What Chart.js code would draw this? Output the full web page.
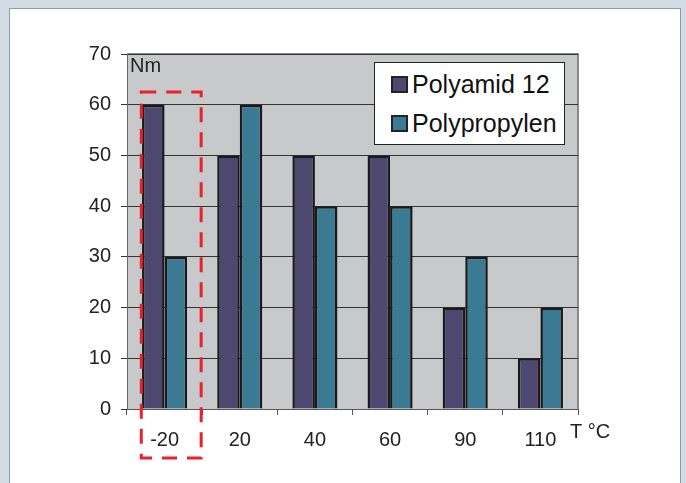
<!DOCTYPE html>
<html>
<head>
<meta charset="utf-8">
<script src="https://cdn.jsdelivr.net/npm/chart.js@4"></script>
<style>
  html,body{margin:0;padding:0;}
  body{width:686px;height:483px;background:#d3dce3;position:relative;overflow:hidden;font-family:"Liberation Sans",Arial,sans-serif;}
  #panel{position:absolute;left:9px;top:8px;width:672px;height:500px;background:#fff;border:1px solid #8d9ca8;box-sizing:border-box;}
  #wrap{position:absolute;left:0;top:0;width:686px;height:483px;}
  #legend{position:absolute;left:374px;top:62px;width:191px;height:83px;background:#fff;border:1px solid #222;box-sizing:border-box;}
  .item{position:absolute;left:16px;height:26px;line-height:26px;font-size:25px;color:#111;white-space:nowrap;}
  .item i{display:inline-block;width:13px;height:13px;border:2px solid #222;vertical-align:middle;margin-right:4px;position:relative;top:-2px;}
</style>
</head>
<body>
<div id="panel"></div>
<div id="wrap"><canvas id="c" width="686" height="483"></canvas></div>
<div id="legend"></div>
<script>
/* ---------- 資料 ---------- */
const temps = ['-20','20','40','60','90','110'];
const polyamid = [60,50,50,50,20,10];
const polypropylen = [30,60,40,40,30,20];
const seriesNames = ['Polyamid 12','Polypropylen'];
const seriesColors = ['#4e4870','#3b7a93'];
const yTicks = [0,10,20,30,40,50,60,70];
const highlightIdx = 0;      // 紅框標示的類別
const highlightTop = 62.5;   // 紅框上緣（數值）

const FONT = '"Liberation Sans", Arial, sans-serif';

/* ---------- 小工具 plugin：背景、單位、紅框 ---------- */
const decor = {
  id:'decor',
  beforeDraw(chart){
    const {ctx, chartArea:a} = chart;
    ctx.save();
    ctx.fillStyle = '#c8c9cb';
    ctx.fillRect(a.left, a.top, a.right-a.left, a.bottom-a.top);
    ctx.strokeStyle = '#8a8a8a'; ctx.lineWidth = 2;
    ctx.beginPath();
    ctx.moveTo(a.left, a.top); ctx.lineTo(a.right, a.top); ctx.lineTo(a.right, a.bottom);
    ctx.stroke();
    ctx.restore();
  },
  afterDraw(chart){
    const {ctx, chartArea:a, scales:{x,y}} = chart;
    ctx.save();
    ctx.font = '20px ' + FONT;
    ctx.fillStyle = '#222';
    ctx.textBaseline = 'top';
    ctx.textAlign = 'left';
    ctx.fillText('Nm', a.left + 3, a.top + 2);
    ctx.fillText('T °C', a.right - 8, a.bottom + 13);
    // 紅色虛線框
    const cx = x.getPixelForValue(highlightIdx);
    const cw = x.getPixelForValue(highlightIdx+1) - cx;
    const l = cx - cw*0.31, r = cx + cw/2 - 1;
    const t = y.getPixelForValue(highlightTop), b = a.bottom + 49;
    ctx.strokeStyle = '#e8212a'; ctx.lineWidth = 3;
    ctx.setLineDash([15,10]);
    ctx.strokeRect(l, t, r-l, b-t);
    ctx.restore();
  }
};

const ds = [polyamid, polypropylen].map((d,i)=>({
  label: seriesNames[i], data: d,
  backgroundColor: seriesColors[i],
  borderColor: '#1a1a1a', borderWidth: 2.5,
  categoryPercentage: 0.6, barPercentage: 1.0
}));

new Chart(document.getElementById('c'), {
  type:'bar',
  data:{ labels: temps, datasets: ds },
  plugins:[decor],
  options:{
    responsive:false, animation:false,
    layout:{ padding:{ top:54, right:108, left:0, bottom:0 } },
    plugins:{ legend:{display:false}, tooltip:{enabled:false} },
    scales:{
      x:{
        offset:true,
        grid:{ offset:true, drawOnChartArea:false, drawTicks:true, tickLength:6, color:'#555' },
        border:{ color:'#555', width:1 },
        ticks:{ color:'#222', padding:13, font:{ size:20, family:FONT } },
        afterFit:(s)=>{ s.height = 74; }
      },
      y:{
        min:0, max:70,
        afterBuildTicks:(s)=>{ s.ticks = yTicks.map(v=>({value:v})); },
        grid:{ color:'#333', lineWidth:1, tickLength:6, drawTicks:true },
        border:{ color:'#666', width:1 },
        ticks:{ color:'#222', padding:10, font:{ size:20, family:FONT } },
        afterFit:(s)=>{ s.width = 127; }
      }
    }
  }
});

/* ---------- 圖例（HTML） ---------- */
const lg = document.getElementById('legend');
seriesNames.forEach((n,i)=>{
  const d = document.createElement('div'); d.className='item';
  d.style.top = (8 + i*39) + 'px';
  const sw = document.createElement('i'); sw.style.background = seriesColors[i];
  d.append(sw, document.createTextNode(n));
  lg.append(d);
});
</script>
</body>
</html>
